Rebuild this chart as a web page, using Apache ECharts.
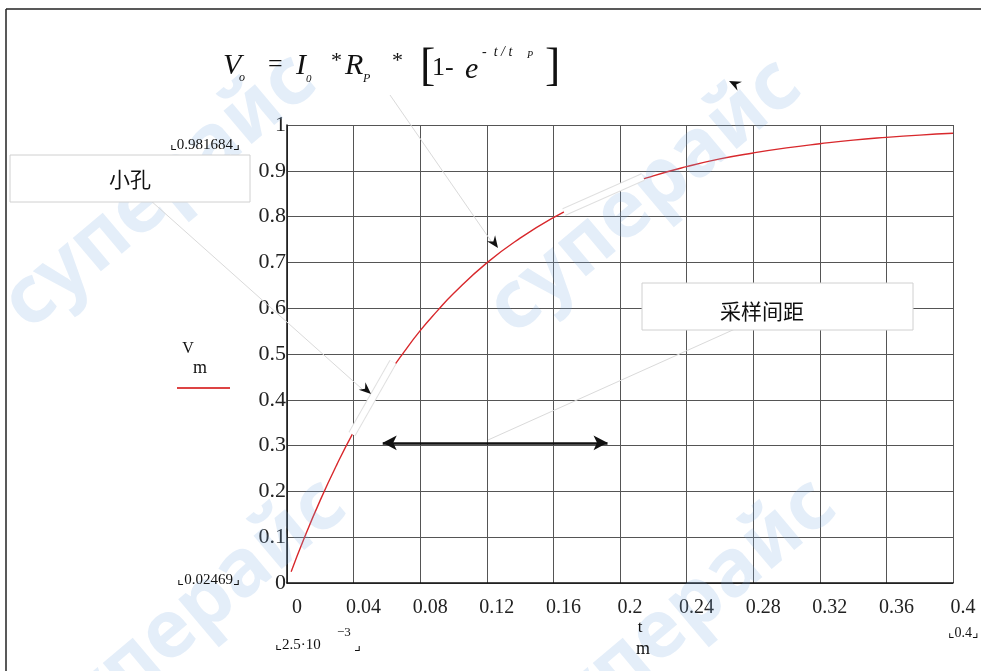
<!DOCTYPE html>
<html>
<head>
<meta charset="utf-8">
<script src="https://cdn.jsdelivr.net/npm/echarts@6/dist/echarts.min.js"></script>
<style>
html,body{margin:0;padding:0;background:#fff}
#chart{width:981px;height:671px}
</style>
</head>
<body>
<div id="chart"></div>
<script>
// t_m (s) and V_m
var tm = [0.0025, 0.01, 0.02, 0.03, 0.04, 0.05, 0.06, 0.07, 0.08, 0.09, 0.10,
          0.12, 0.14, 0.16, 0.18, 0.20, 0.22, 0.24, 0.26, 0.28, 0.30,
          0.32, 0.34, 0.36, 0.38, 0.40];
var vm = [0.0247, 0.095, 0.181, 0.259, 0.330, 0.393, 0.451, 0.503, 0.551, 0.593, 0.632,
          0.699, 0.753, 0.798, 0.835, 0.865, 0.889, 0.909, 0.926, 0.939, 0.950,
          0.959, 0.967, 0.973, 0.978, 0.982];
var xRange = [0, 0.4, 0.04];
var yRange = [0, 1, 0.1];
// sampling-interval double arrow: from / to on t axis, at this V level
var spanT = [0.0575, 0.1925];
var spanV = 0.306;
var endLabels = ['\u231E0.981684\u231F', '\u231E0.02469\u231F', '\u231E0.4\u231F'];

var serif = '"Liberation Serif", "Times New Roman", serif';
var cjk = '"Noto Sans CJK SC", sans-serif';

var dom = document.getElementById('chart');
var chart = echarts.init(dom);

function arrowHead(x, y, ang) {
    var len = 12, w = 5, n = 8;
    var c = Math.cos(ang), s = Math.sin(ang);
    function p(a, b) { return [x - a * c + b * s, y - a * s - b * c]; }
    return { type: 'polygon', z: 120, shape: { points: [p(0, 0), p(len, w), p(n, 0), p(len, -w)] },
             style: { fill: '#111' } };
}
function txt(x, y, text, font, extra) {
    var st = { text: text, font: font, fill: '#111', textAlign: 'left', textVerticalAlign: 'middle' };
    for (var k in extra) st[k] = extra[k];
    return { type: 'text', x: x, y: y, z: 110, style: st };
}
function mark(x, y, text) {
    return { type: 'text', x: x, y: y, z: 5, rotation: 0.7,
             style: { text: text, font: 'bold 80px "Noto Sans", sans-serif', fill: 'rgba(120,170,225,0.2)',
                      textAlign: 'left', textVerticalAlign: 'bottom' } };
}

var points = [];
for (var i = 0; i < tm.length; i++) points.push([tm[i], vm[i]]);

var graphics = [
    // outer frame
    { type: 'line', z: 100, shape: { x1: 6, y1: 9, x2: 981, y2: 9 }, style: { stroke: '#222', lineWidth: 1.5 } },
    { type: 'line', z: 100, shape: { x1: 6, y1: 9, x2: 6, y2: 671 }, style: { stroke: '#222', lineWidth: 1.5 } },
    // watermark
    mark(40, 345, 'суперайс'), mark(525, 350, 'суперайс'), mark(70, 770, 'суперайс'), mark(560, 770, 'суперайс'),
    // formula
    txt(223, 66, 'V', 'italic 30px ' + serif),
    txt(239, 78, 'o', 'italic 12px ' + serif),
    txt(268, 65, '=', '26px ' + serif),
    txt(296, 66, 'I', 'italic 30px ' + serif),
    txt(306, 79, '0', 'italic 11px ' + serif),
    txt(331, 61, '*', '22px ' + serif),
    txt(345, 66, 'R', 'italic 30px ' + serif),
    txt(363, 79, 'P', 'italic 12px ' + serif),
    txt(392, 61, '*', '22px ' + serif),
    txt(420, 68, '[', '46px ' + serif),
    txt(432, 68, '1-', '26px ' + serif),
    txt(465, 70, 'e', 'italic 30px ' + serif),
    txt(482, 52, '-  t / t', 'italic 14px ' + serif),
    txt(527, 55, 'P', 'italic 10px ' + serif),
    txt(545, 68, ']', '46px ' + serif),
    // end values
    txt(240, 145, endLabels[0], '15px ' + serif, { textAlign: 'right' }),
    txt(240, 580, endLabels[1], '15px ' + serif, { textAlign: 'right' }),
    txt(979, 633, endLabels[2], '14px ' + serif, { textAlign: 'right' }),
    txt(275, 645, '\u231E2.5\u00B710', '15px ' + serif),
    txt(337, 633, '\u22123', '13px ' + serif),
    txt(354, 646, '\u231F', '15px ' + serif),
    // axis names
    txt(640, 628, 't', '17px ' + serif, { textAlign: 'center' }),
    txt(643, 649, 'm', '18px ' + serif, { textAlign: 'center' }),
    txt(188, 349, 'V', '16px ' + serif, { textAlign: 'center' }),
    txt(200, 368, 'm', '18px ' + serif, { textAlign: 'center' }),
    { type: 'line', z: 110, shape: { x1: 177, y1: 388, x2: 230, y2: 388 }, style: { stroke: '#d44', lineWidth: 2 } },
    // leader lines
    { type: 'line', z: 90, shape: { x1: 150, y1: 200, x2: 362, y2: 389 }, style: { stroke: '#dadada', lineWidth: 1 } },
    { type: 'line', z: 90, shape: { x1: 390, y1: 95, x2: 491, y2: 241 }, style: { stroke: '#dadada', lineWidth: 1 } },
    { type: 'line', z: 90, shape: { x1: 488, y1: 440, x2: 735, y2: 329 }, style: { stroke: '#dadada', lineWidth: 1 } },
    // white ribbons over the trace
    { type: 'line', z: 95, shape: { x1: 352, y1: 434, x2: 393, y2: 362 }, style: { stroke: '#e0e0e0', lineWidth: 8, lineCap: 'butt' } },
    { type: 'line', z: 96, shape: { x1: 352, y1: 434, x2: 393, y2: 362 }, style: { stroke: '#fff', lineWidth: 6, lineCap: 'butt' } },
    { type: 'line', z: 95, shape: { x1: 564, y1: 212, x2: 643, y2: 177 }, style: { stroke: '#e0e0e0', lineWidth: 8, lineCap: 'butt' } },
    { type: 'line', z: 96, shape: { x1: 564, y1: 212, x2: 643, y2: 177 }, style: { stroke: '#fff', lineWidth: 6, lineCap: 'butt' } },
    arrowHead(371, 394, 0.73), arrowHead(498, 248, 0.95), arrowHead(729, 81, 3.6),
    // boxes
    { type: 'rect', z: 100, shape: { x: 10, y: 155, width: 240, height: 47 }, style: { fill: '#fff', stroke: '#d0d0d0', lineWidth: 1 } },
    txt(130, 179, '小孔', '21px ' + cjk, { textAlign: 'center' }),
    { type: 'rect', z: 100, shape: { x: 642, y: 283, width: 271, height: 47 }, style: { fill: '#fff', stroke: '#d0d0d0', lineWidth: 1 } },
    txt(762, 311, '采样间距', '21px ' + cjk, { textAlign: 'center' })
];

var option = {
    backgroundColor: '#fff',
    animation: false,
    grid: { left: 287, top: 125, width: 666, height: 458 },
    xAxis: {
        type: 'value', min: xRange[0], max: xRange[1], interval: xRange[2],
        axisLine: { lineStyle: { color: '#111', width: 1.5 } },
        axisTick: { show: false },
        splitLine: { lineStyle: { color: '#555', width: 1 } },
        axisLabel: { fontFamily: serif, fontSize: 20, color: '#222', margin: 15, padding: [0, 0, 0, 20] }
    },
    yAxis: {
        type: 'value', min: yRange[0], max: yRange[1], interval: yRange[2],
        axisLine: { lineStyle: { color: '#111', width: 1.5 } },
        axisTick: { show: false },
        splitLine: { lineStyle: { color: '#555', width: 1 } },
        axisLabel: { fontFamily: serif, fontSize: 22, color: '#222', margin: 1, padding: [8, 0, 0, 0] }
    },
    series: [{
        type: 'line',
        data: points,
        smooth: true,
        showSymbol: false,
        lineStyle: { color: '#d8282c', width: 1.4 },
        z: 3,
        markLine: {
            silent: true,
            symbol: ['arrow', 'arrow'],
            symbolSize: [11, 14],
            label: { show: false },
            lineStyle: { color: '#111', width: 2.5, type: 'solid' },
            data: [[{ coord: [spanT[0], spanV] }, { coord: [spanT[1], spanV] }]]
        }
    }],
    graphic: graphics
};
chart.setOption(option);
window.addEventListener('resize', function () {
    chart.resize();
});
</script>
</body>
</html>
